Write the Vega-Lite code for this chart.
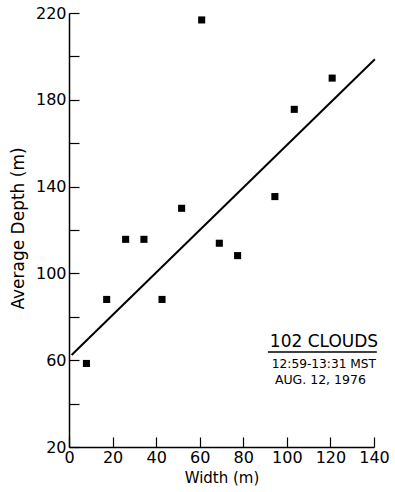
{
  "$schema": "https://vega.github.io/schema/vega-lite/v6.json",
  "autosize": "none",
  "padding": {"left": 69, "top": 13, "right": 21, "bottom": 45},
  "width": 305,
  "height": 434,
  "background": "white",
  "view": {"stroke": null},
  "config": {
    "font": "DejaVu Sans",
    "axis": {
      "domainColor": "black",
      "domainWidth": 1.5,
      "tickColor": "black",
      "tickWidth": 1.2,
      "tickSize": -10,
      "labelColor": "black",
      "labelFont": "DejaVu Sans",
      "labelFontSize": 16,
      "titleFont": "DejaVu Sans",
      "titleFontSize": 16,
      "titleFontWeight": "normal",
      "titleColor": "black",
      "grid": false
    }
  },
  "datasets": {
    "clouds": [
      {"width": 8, "depth": 58.5},
      {"width": 17.3, "depth": 88},
      {"width": 26, "depth": 115.7},
      {"width": 34.4, "depth": 115.7},
      {"width": 42.7, "depth": 88},
      {"width": 51.7, "depth": 130},
      {"width": 60.9, "depth": 216.8},
      {"width": 69, "depth": 113.9},
      {"width": 77.4, "depth": 108.2},
      {"width": 94.5, "depth": 135.4},
      {"width": 103.4, "depth": 175.6},
      {"width": 120.8, "depth": 190}
    ],
    "fit": [
      {"width": 1.2, "depth": 62.4},
      {"width": 140.4, "depth": 198.7}
    ],
    "notes": [
      {"x": 92.2, "y": 66.1, "text": "102 CLOUDS", "size": 17},
      {"x": 93.1, "y": 56.4, "text": "12:59-13:31 MST", "size": 12.2},
      {"x": 94.5, "y": 49, "text": "AUG. 12, 1976", "size": 12.5}
    ],
    "underline": [
      {"x": 91.3, "x2": 141.3, "y": 63.8}
    ]
  },
  "layer": [
    {
      "data": {"name": "clouds"},
      "mark": {"type": "point", "shape": "square", "filled": true, "color": "black", "size": 50, "opacity": 1},
      "encoding": {
        "x": {
          "field": "width", "type": "quantitative",
          "scale": {"domain": [0, 140], "nice": false, "zero": false},
          "axis": {
            "title": "Width (m)",
            "titleFontSize": 15,
            "values": [0, 10, 20, 30, 40, 50, 60, 70, 80, 90, 100, 110, 120, 130, 140],
            "labelExpr": "datum.value % 20 == 0 ? datum.label : ''",
            "labelPadding": 12,
            "labelFlush": false,
            "titleY": 30,
            "titleBaseline": "middle"
          }
        },
        "y": {
          "field": "depth", "type": "quantitative",
          "scale": {"domain": [20, 220], "nice": false, "zero": false},
          "axis": {
            "title": "Average Depth (m)",
            "titleFontSize": 17,
            "values": [20, 30, 40, 50, 60, 70, 80, 90, 100, 110, 120, 130, 140, 150, 160, 170, 180, 190, 200, 210, 220],
            "labelExpr": "(datum.value - 20) % 40 == 0 ? datum.label : ''",
            "labelPadding": 13,
            "labelFlush": false,
            "titleX": -51,
            "titleY": 215,
            "titleBaseline": "middle",
            "titleAlign": "center"
          }
        }
      }
    },
    {
      "data": {"name": "fit"},
      "mark": {"type": "line", "color": "black", "strokeWidth": 2},
      "encoding": {
        "x": {"field": "width", "type": "quantitative"},
        "y": {"field": "depth", "type": "quantitative"}
      }
    },
    {
      "data": {"name": "notes"},
      "mark": {"type": "text", "align": "left", "baseline": "alphabetic", "color": "black"},
      "encoding": {
        "x": {"field": "x", "type": "quantitative"},
        "y": {"field": "y", "type": "quantitative"},
        "text": {"field": "text"},
        "size": {"field": "size", "type": "quantitative", "scale": null}
      }
    },
    {
      "data": {"name": "underline"},
      "mark": {"type": "rule", "color": "black", "strokeWidth": 1.5, "clip": false},
      "encoding": {
        "x": {"field": "x", "type": "quantitative"},
        "x2": {"field": "x2"},
        "y": {"field": "y", "type": "quantitative"}
      }
    }
  ]
}
